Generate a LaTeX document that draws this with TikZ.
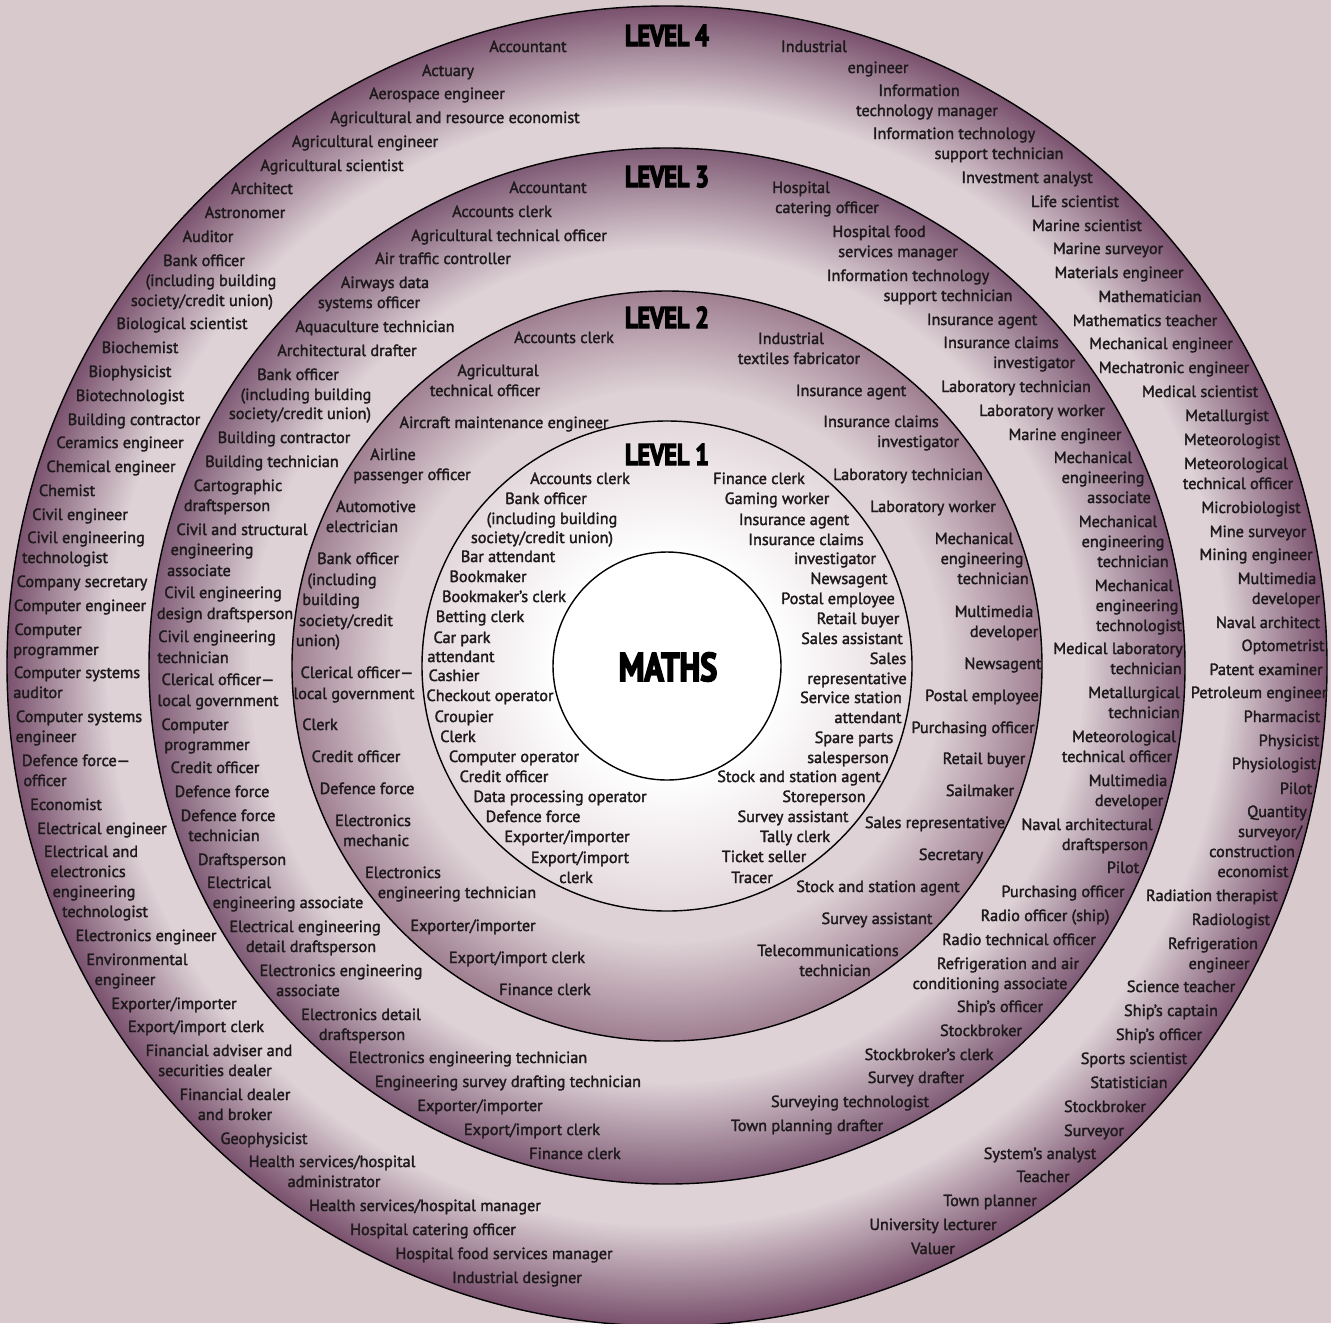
\documentclass[tikz,border=0pt]{standalone}
\usepackage{fontspec}
\newfontfamily\jobfont{PT Sans}[FakeBold=2]
\newfontfamily\lvlfont{PT Sans}[FakeStretch=0.8,FakeBold=4]
\definecolor{bg}{RGB}{216,201,205}
\definecolor{dkA}{RGB}{122,82,110}
\definecolor{dkB}{RGB}{128,92,118}
\definecolor{dkC}{RGB}{160,128,146}
\definecolor{ltA}{RGB}{222,210,214}
\definecolor{ltB}{RGB}{228,217,221}
\definecolor{txt}{RGB}{30,26,28}
\newcount\lblc
\newcommand\jb[3]{\global\advance\lblc by 1\relax\node[job] (j\the\lblc) at (#1,#2+6) {#3};}
\begin{document}
\begin{tikzpicture}[x=0.5pt,y=-0.5pt,
  job/.style={anchor=base,inner sep=0pt,text=txt,font=\jobfont\fontsize{8.1}{10}\selectfont},
  lvl/.style={anchor=base,inner sep=0pt,text=black,font=\lvlfont\bfseries\fontsize{15}{16}\selectfont},
  ring/.style={draw=black,line width=0.7pt}]
\useasboundingbox (0,0) rectangle (1331,1323);
\fill[bg] (0,0) rectangle (1331,1323);
\coordinate (c) at (667,666);
% shaded rings
\foreach \Ro/\Ri/\cd/\cl/\f in {660/518/dkA/ltA/0.7, 518/375/dkB/ltA/0.7, 375/245/dkC/ltA/0.75, 245/114/ltB/white/1.0}{
  \foreach \i in {0,...,60}{
    \pgfmathsetmacro\r{\Ro-(\Ro-\Ri)*\i/60}
    \pgfmathsetmacro\p{min(100,100*\i/60/\f)}
    \fill[\cl!\p!\cd] (c) circle[radius=\r*0.5pt];
  }
}
\fill[white] (c) circle[radius=57pt];
\draw[ring] (c) circle[radius=330pt];
\draw[ring] (c) circle[radius=259pt];
\draw[ring] (c) circle[radius=187.5pt];
\draw[ring] (c) circle[radius=122.5pt];
\draw[ring] (c) circle[radius=57pt];
% level labels
\node[lvl] (l4) at (667,46) {LEVEL 4};
\node[lvl] (l3) at (667,187) {LEVEL 3};
\node[lvl] (l2) at (667,328) {LEVEL 2};
\node[lvl] (l1) at (667,465) {LEVEL 1};
\node[lvl,font=\lvlfont\bfseries\fontsize{20}{22}\selectfont] (maths) at (668,681) {MATHS};
% ---- Level 4 left
\jb{528}{46}{Accountant}
\jb{448}{70}{Actuary}
\jb{437}{93}{Aerospace engineer}
\jb{455}{117}{Agricultural and resource economist}
\jb{365}{141}{Agricultural engineer}
\jb{332}{165}{Agricultural scientist}
\jb{262}{188}{Architect}
\jb{245}{212}{Astronomer}
\jb{208}{236}{Auditor}
\jb{204}{260}{Bank officer}
\jb{211}{280}{(including building}
\jb{202}{300}{society/credit union)}
\jb{182}{323}{Biological scientist}
\jb{140}{347}{Biochemist}
\jb{130}{371}{Biophysicist}
\jb{130}{395}{Biotechnologist}
\jb{134}{419}{Building contractor}
\jb{120}{442}{Ceramics engineer}
\jb{111}{466}{Chemical engineer}
\jb{67}{490}{Chemist}
\jb{80}{514}{Civil engineer}
\jb{86}{537}{Civil engineering}
\jb{65}{557}{technologist}
\jb{82}{581}{Company secretary}
\jb{80}{605}{Computer engineer}
\jb{48}{629}{Computer}
\jb{56}{649}{programmer}
\jb{77}{672}{Computer systems}
\jb{38}{692}{auditor}
\jb{79}{716}{Computer systems}
\jb{46}{736}{engineer}
\jb{76}{760}{Defence force—}
\jb{45}{780}{officer}
\jb{66}{804}{Economist}
\jb{102}{828}{Electrical engineer}
\jb{91}{851}{Electrical and}
\jb{88}{871}{electronics}
\jb{94}{891}{engineering}
\jb{105}{911}{technologist}
\jb{146}{935}{Electronics engineer}
\jb{137}{959}{Environmental}
\jb{125}{979}{engineer}
\jb{174}{1003}{Exporter/importer}
\jb{196}{1026}{Export/import clerk}
\jb{219}{1050}{Financial adviser and}
\jb{215}{1070}{securities dealer}
\jb{235}{1094}{Financial dealer}
\jb{235}{1114}{and broker}
\jb{264}{1138}{Geophysicist}
\jb{332}{1161}{Health services/hospital}
\jb{334}{1181}{administrator}
\jb{425}{1205}{Health services/hospital manager}
\jb{433}{1229}{Hospital catering officer}
\jb{504}{1253}{Hospital food services manager}
\jb{517}{1277}{Industrial designer}
% ---- Level 4 right
\jb{814}{46}{Industrial}
\jb{878}{67}{engineer}
\jb{919}{90}{Information}
\jb{927}{110}{technology manager}
\jb{954}{133}{Information technology}
\jb{999}{153}{support technician}
\jb{1027}{177}{Investment analyst}
\jb{1075}{201}{Life scientist}
\jb{1087}{225}{Marine scientist}
\jb{1108}{248}{Marine surveyor}
\jb{1119}{272}{Materials engineer}
\jb{1150}{296}{Mathematician}
\jb{1145}{320}{Mathematics teacher}
\jb{1161}{343}{Mechanical engineer}
\jb{1174}{367}{Mechatronic engineer}
\jb{1200}{391}{Medical scientist}
\jb{1227}{415}{Metallurgist}
\jb{1232}{439}{Meteorologist}
\jb{1236}{463}{Meteorological}
\jb{1238}{483}{technical officer}
\jb{1251}{507}{Microbiologist}
\jb{1258}{531}{Mine surveyor}
\jb{1256}{554}{Mining engineer}
\jb{1277}{578}{Multimedia}
\jb{1286}{598}{developer}
\jb{1268}{622}{Naval architect}
\jb{1283}{645}{Optometrist}
\jb{1266}{669}{Patent examiner}
\jb{1259}{692}{Petroleum engineer}
\jb{1282}{716}{Pharmacist}
\jb{1289}{740}{Physicist}
\jb{1274}{763}{Physiologist}
\jb{1296}{788}{Pilot}
\jb{1277}{811}{Quantity}
\jb{1270}{831}{surveyor/}
\jb{1252}{851}{construction}
\jb{1253}{871}{economist}
\jb{1212}{895}{Radiation therapist}
\jb{1231}{919}{Radiologist}
\jb{1213}{943}{Refrigeration}
\jb{1219}{963}{engineer}
\jb{1181}{986}{Science teacher}
\jb{1171}{1010}{Ship’s captain}
\jb{1159}{1034}{Ship’s officer}
\jb{1134}{1058}{Sports scientist}
\jb{1129}{1082}{Statistician}
\jb{1105}{1106}{Stockbroker}
\jb{1094}{1130}{Surveyor}
\jb{1040}{1153}{System’s analyst}
\jb{1043}{1176}{Teacher}
\jb{990}{1200}{Town planner}
\jb{933}{1224}{University lecturer}
\jb{933}{1248}{Valuer}
% ---- Level 3 left
\jb{548}{187}{Accountant}
\jb{502}{211}{Accounts clerk}
\jb{509}{235}{Agricultural technical officer}
\jb{443}{258}{Air traffic controller}
\jb{385}{282}{Airways data}
\jb{369}{302}{systems officer}
\jb{375}{326}{Aquaculture technician}
\jb{347}{350}{Architectural drafter}
\jb{298}{374}{Bank officer}
\jb{306}{394}{(including building}
\jb{300}{413}{society/credit union)}
\jb{284}{437}{Building contractor}
\jb{272}{461}{Building technician}
\jb{238}{485}{Cartographic}
\jb{227}{505}{draftsperson}
\jb{242}{529}{Civil and structural}
\jb{212}{549}{engineering}
\jb{199}{570}{associate}
\jb{223}{592}{Civil engineering}
\jb{225}{613}{design draftsperson}
\jb{217}{636}{Civil engineering}
\jb{193}{657}{technician}
\jb{218}{679}{Clerical officer—}
\jb{218}{700}{local government}
\jb{195}{724}{Computer}
\jb{207}{744}{programmer}
\jb{215}{767}{Credit officer}
\jb{222}{791}{Defence force}
\jb{228}{815}{Defence force}
\jb{224}{835}{technician}
\jb{242}{859}{Draftsperson}
\jb{239}{882}{Electrical}
\jb{288}{902}{engineering associate}
\jb{305}{926}{Electrical engineering}
\jb{311}{946}{detail draftsperson}
\jb{341}{970}{Electronics engineering}
\jb{308}{990}{associate}
\jb{361}{1014}{Electronics detail}
\jb{362}{1034}{draftsperson}
\jb{468}{1057}{Electronics engineering technician}
\jb{508}{1081}{Engineering survey drafting technician}
\jb{480}{1105}{Exporter/importer}
\jb{532}{1129}{Export/import clerk}
\jb{575}{1153}{Finance clerk}
% ---- Level 3 right
\jb{801}{187}{Hospital}
\jb{827}{207}{catering officer}
\jb{879}{231}{Hospital food}
\jb{898}{251}{services manager}
\jb{908}{275}{Information technology}
\jb{948}{295}{support technician}
\jb{982}{319}{Insurance agent}
\jb{1001}{342}{Insurance claims}
\jb{1034}{362}{investigator}
\jb{1016}{386}{Laboratory technician}
\jb{1042}{410}{Laboratory worker}
\jb{1065}{434}{Marine engineer}
\jb{1093}{457}{Mechanical}
\jb{1103}{477}{engineering}
\jb{1119}{497}{associate}
\jb{1118}{521}{Mechanical}
\jb{1123}{541}{engineering}
\jb{1133}{561}{technician}
\jb{1134}{585}{Mechanical}
\jb{1137}{605}{engineering}
\jb{1139}{625}{technologist}
\jb{1118}{648}{Medical laboratory}
\jb{1146}{668}{technician}
\jb{1134}{692}{Metallurgical}
\jb{1144}{712}{technician}
\jb{1124}{736}{Meteorological}
\jb{1117}{756}{technical officer}
\jb{1128}{780}{Multimedia}
\jb{1129}{800}{developer}
\jb{1087}{824}{Naval architectural}
\jb{1105}{844}{draftsperson}
\jb{1123}{867}{Pilot}
\jb{1063}{891}{Purchasing officer}
\jb{1045}{915}{Radio officer (ship)}
\jb{1019}{939}{Radio technical officer}
\jb{1008}{963}{Refrigeration and air}
\jb{990}{983}{conditioning associate}
\jb{1000}{1006}{Ship’s officer}
\jb{981}{1030}{Stockbroker}
\jb{929}{1054}{Stockbroker’s clerk}
\jb{916}{1077}{Survey drafter}
\jb{850}{1101}{Surveying technologist}
\jb{807}{1125}{Town planning drafter}
% ---- Level 2 left
\jb{564}{337}{Accounts clerk}
\jb{498}{370}{Agricultural}
\jb{485}{390}{technical officer}
\jb{504}{422}{Aircraft maintenance engineer}
\jb{393}{454}{Airline}
\jb{412}{474}{passenger officer}
\jb{376}{506}{Automotive}
\jb{362}{526}{electrician}
\jb{358}{558}{Bank officer}
\jb{342}{579}{(including}
\jb{331}{599}{building}
\jb{346}{620}{society/credit}
\jb{318}{640}{union)}
\jb{357}{672}{Clerical officer—}
\jb{354}{693}{local government}
\jb{320}{724}{Clerk}
\jb{356}{756}{Credit officer}
\jb{367}{788}{Defence force}
\jb{373}{820}{Electronics}
\jb{376}{840}{mechanic}
\jb{403}{872}{Electronics}
\jb{457}{892}{engineering technician}
\jb{473}{925}{Exporter/importer}
\jb{517}{957}{Export/import clerk}
\jb{545}{989}{Finance clerk}
% ---- Level 2 right
\jb{791}{338}{Industrial}
\jb{799}{358}{textiles fabricator}
\jb{851}{390}{Insurance agent}
\jb{881}{421}{Insurance claims}
\jb{918}{441}{investigator}
\jb{908}{474}{Laboratory technician}
\jb{933}{506}{Laboratory worker}
\jb{974}{538}{Mechanical}
\jb{982}{558}{engineering}
\jb{993}{578}{technician}
\jb{994}{611}{Multimedia}
\jb{1004}{631}{developer}
\jb{1003}{663}{Newsagent}
\jb{982}{695}{Postal employee}
\jb{973}{727}{Purchasing officer}
\jb{984}{758}{Retail buyer}
\jb{980}{790}{Sailmaker}
\jb{935}{822}{Sales representative}
\jb{951}{854}{Secretary}
\jb{878}{886}{Stock and station agent}
\jb{877}{918}{Survey assistant}
\jb{828}{950}{Telecommunications}
\jb{835}{970}{technician}
% ---- Level 1 left
\jb{580}{478}{Accounts clerk}
\jb{546}{498}{Bank officer}
\jb{552}{518}{(including building}
\jb{542}{537}{society/credit union)}
\jb{508}{556}{Bar attendant}
\jb{488}{576}{Bookmaker}
\jb{504}{596}{Bookmaker’s clerk}
\jb{480}{616}{Betting clerk}
\jb{462}{637}{Car park}
\jb{461}{656}{attendant}
\jb{454}{675}{Cashier}
\jb{490}{695}{Checkout operator}
\jb{464}{716}{Croupier}
\jb{458}{736}{Clerk}
\jb{514}{756}{Computer operator}
\jb{504}{776}{Credit officer}
\jb{560}{796}{Data processing operator}
\jb{533}{816}{Defence force}
\jb{567}{836}{Exporter/importer}
\jb{580}{857}{Export/import}
\jb{576}{877}{clerk}
% ---- Level 1 right
\jb{759}{478}{Finance clerk}
\jb{777}{498}{Gaming worker}
\jb{794}{519}{Insurance agent}
\jb{806}{539}{Insurance claims}
\jb{835}{558}{investigator}
\jb{849}{578}{Newsagent}
\jb{838}{598}{Postal employee}
\jb{858}{618}{Retail buyer}
\jb{852}{638}{Sales assistant}
\jb{888}{658}{Sales}
\jb{857}{678}{representative}
\jb{851}{697}{Service station}
\jb{868}{717}{attendant}
\jb{854}{737}{Spare parts}
\jb{848}{757}{salesperson}
\jb{799}{776}{Stock and station agent}
\jb{824}{796}{Storeperson}
\jb{793}{816}{Survey assistant}
\jb{795}{836}{Tally clerk}
\jb{764}{856}{Ticket seller}
\jb{752}{877}{Tracer}
\end{tikzpicture}
\end{document}
